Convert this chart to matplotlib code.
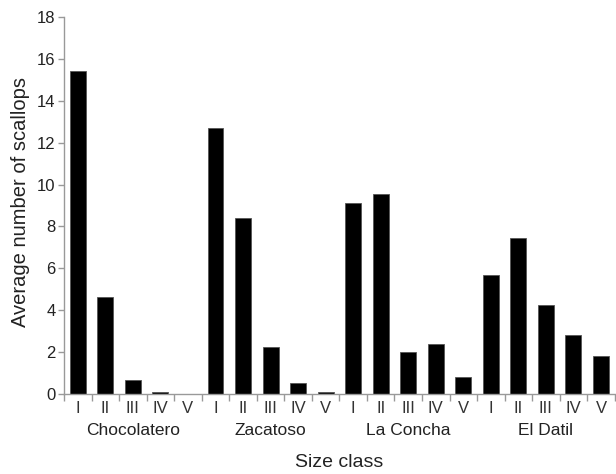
import matplotlib.pyplot as plt
import matplotlib.transforms as mtransforms
import numpy as np

plt.rcParams['font.family'] = ['Liberation Sans', 'DejaVu Sans']

sites = ['Chocolatero', 'Zacatoso', 'La Concha', 'El Datil']
size_classes = ['I', 'II', 'III', 'IV', 'V']
chocolatero = [15.4, 4.65, 0.67, 0.1, 0.0]
zacatoso = [12.7, 8.4, 2.23, 0.5, 0.08]
la_concha = [9.13, 9.55, 1.98, 2.4, 0.81]
el_datil = [5.68, 7.43, 4.25, 2.83, 1.82]

values = chocolatero + zacatoso + la_concha + el_datil
labels = size_classes * len(sites)
x = np.arange(len(values))

fig = plt.figure(figsize=(6.16, 4.74), dpi=100)
ax = fig.add_axes([0.104, 0.169, 0.894, 0.795])

ax.bar(x, values, width=0.58, color='black', edgecolor='#555555', linewidth=0.6)

ax.set_xlim(-0.5, len(values) - 0.5)
ax.set_ylim(0, 18)
ax.set_yticks(np.arange(0, 19, 2))

# roman numerals under bars, ticks at group boundaries
ax.set_xticks(x)
ax.set_xticklabels(labels)
ax.set_xticks(np.arange(-0.5, len(values), 1.0), minor=True)
ax.tick_params(axis='x', which='major', length=0, pad=5, labelsize=12, labelcolor='#333333')
ax.tick_params(axis='x', which='minor', length=5, color='#999999', width=1)
ax.tick_params(axis='y', length=4, color='#999999', width=1, labelsize=12,
               labelcolor='#222222', pad=2)

for s in ['top', 'right']:
    ax.spines[s].set_visible(False)
for s in ['left', 'bottom']:
    ax.spines[s].set_color('#999999')
    ax.spines[s].set_linewidth(1)

trans = mtransforms.blended_transform_factory(ax.transData, ax.transAxes)
for i, site in enumerate(sites):
    ax.text(i * 5 + 2, -0.097, site, transform=trans, ha='center', va='center',
            fontsize=12.5, color='#222222')

ax.text(0.5, -0.183, 'Size class', transform=ax.transAxes, ha='center', va='center',
        fontsize=14, color='#222222')
ax.set_ylabel('Average number of scallops', fontsize=14.5, color='#222222')
ax.yaxis.set_label_coords(-0.062, 0.51)

fig.savefig('out.png', dpi=100)
